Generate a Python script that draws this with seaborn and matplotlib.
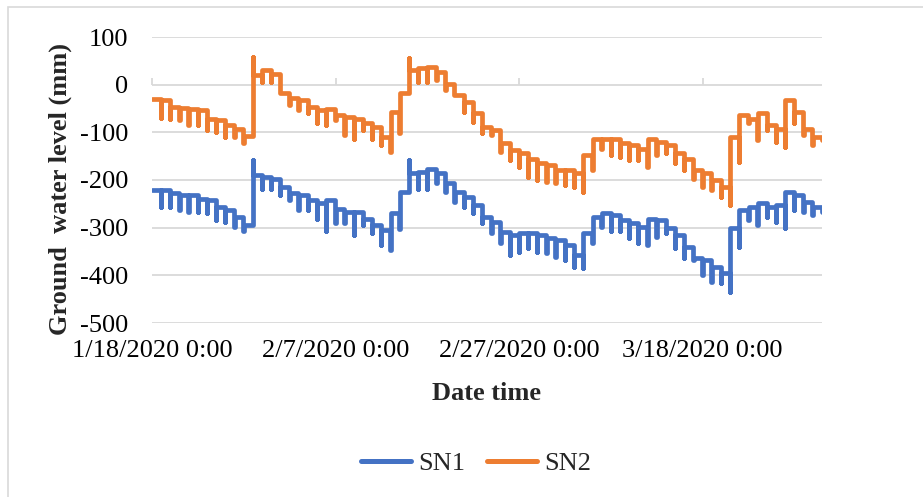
import pandas as pd
import matplotlib.pyplot as plt
import matplotlib.dates as mdates
from matplotlib.patches import Rectangle
import seaborn as sns

# daily readings: level held through the day, then the short dip at the end of the day
sn1_level = [-221, -221, -228, -232, -232, -239, -242, -256, -263, -277,
             -295, -190, -193, -197, -214, -228, -232, -242, -249, -242,
             -260, -267, -267, -281, -295, -305, -270, -225, -186, -183,
             -176, -186, -207, -225, -235, -253, -277, -288, -309, -316,
             -312, -312, -316, -322, -326, -336, -357, -312, -277, -270,
             -274, -284, -291, -298, -281, -284, -301, -316, -340, -364,
             -368, -382, -396, -301, -263, -256, -249, -256, -253, -225,
             -232, -246, -256]
sn1_dip = [-256, -256, -263, -267, -267, -270, -284, -288, -298, -308,
           -158, -218, -218, -232, -242, -263, -263, -281, -308, -291,
           -291, -316, -295, -312, -337, -347, -302, -158, -218, -218,
           -207, -225, -246, -256, -270, -291, -312, -333, -357, -350,
           -343, -350, -354, -361, -368, -382, -385, -333, -298, -308,
           -308, -322, -333, -337, -319, -312, -343, -364, -368, -399,
           -413, -417, -434, -340, -284, -295, -277, -288, -301, -263,
           -267, -274, -267]
sn2_level = [-30, -32, -46, -48, -50, -53, -71, -74, -85, -92,
             -108, 20, 30, 23, -18, -29, -32, -46, -53, -50,
             -64, -67, -71, -81, -88, -109, -57, -18, 30, 34,
             37, 27, 2, -22, -36, -60, -88, -95, -123, -137,
             -144, -155, -165, -169, -179, -179, -186, -148, -113, -113,
             -113, -123, -127, -134, -113, -120, -127, -144, -155, -179,
             -186, -200, -214, -110, -64, -71, -60, -85, -92, -33,
             -57, -92, -109]
sn2_dip = [-70, -71, -74, -85, -85, -95, -99, -109, -109, -123,
           58, 6, 6, -18, -43, -53, -60, -81, -85, -74,
           -106, -113, -95, -113, -127, -141, -102, 55, 6, 6,
           10, -11, -22, -57, -78, -102, -105, -141, -158, -172,
           -193, -200, -204, -207, -211, -214, -225, -179, -134, -148,
           -151, -158, -158, -172, -148, -144, -165, -179, -197, -214,
           -221, -235, -252, -162, -81, -116, -95, -120, -130, -81,
           -106, -127, -116]

start = pd.Timestamp('2020-01-18')
days = pd.date_range(start, periods=len(sn1_level), freq='D')
tick_dates = pd.date_range(start, periods=4, freq='20D')
tick_labels = [f'{d.month}/{d.day}/{d.year} 0:00' for d in tick_dates]

# long table: each day gives a row at 0:00 (level) and at 23:00 (dip)
rows = []
for name, level, dip in [('SN1', sn1_level, sn1_dip), ('SN2', sn2_level, sn2_dip)]:
    for d, lv, dp in zip(days, level, dip):
        rows.append((d, lv, name))
        rows.append((d + pd.Timedelta(hours=23), dp, name))
df = pd.DataFrame(rows, columns=['Date time', 'Level', 'Sensor'])

sns.set_theme(style='white')
plt.rcParams['font.family'] = ['Liberation Serif', 'DejaVu Serif']
plt.rcParams['axes.unicode_minus'] = False

fig, ax = plt.subplots(figsize=(9.23, 4.97), dpi=100)
fig.subplots_adjust(left=152/923, right=822/923, top=1-37/497, bottom=1-323/497)

sns.lineplot(data=df, x='Date time', y='Level', hue='Sensor',
             palette={'SN1': '#4472C4', 'SN2': '#ED7D31'},
             estimator=None, sort=True, drawstyle='steps-post', ax=ax)
for line in ax.lines:
    line.set_linewidth(3.4)
    line.set_solid_joinstyle('round')
    line.set_solid_capstyle('round')

ax.set_xlim(start, start + pd.Timedelta(days=73))
ax.set_ylim(-500, 100)
ax.set_yticks(range(-500, 101, 100))
ax.set_xticks(tick_dates)
ax.set_xticklabels(tick_labels)
ax.yaxis.grid(True, color='#d9d9d9', linewidth=1.3)
ax.xaxis.grid(False)
for s in ax.spines.values():
    s.set_visible(False)
ax.tick_params(axis='x', length=0, pad=12, labelsize=19, labelcolor='black')
ax.tick_params(axis='y', length=0, pad=17, labelsize=19, labelcolor='black')

# small tick marks sitting on the zero line, like the Excel category axis
sec = ax.secondary_xaxis(5/6)
sec.set_xticks(mdates.date2num(tick_dates))
sec.tick_params(length=5, width=1.3, color='#d9d9d9', labeltop=False, labelbottom=False)
for s in sec.spines.values():
    s.set_visible(False)

ax.set_xlabel('Date time', fontsize=19, fontweight='bold', labelpad=15)
ax.set_ylabel('Ground  water level (mm)', fontsize=19, fontweight='bold')
ax.yaxis.set_label_coords(-0.119, 0.4685)

handles, labels = ax.get_legend_handles_labels()
ax.get_legend().remove()
for h in handles:
    h.set_linewidth(3.6)
    h.set_solid_capstyle('round')
fig.legend(handles, labels, loc='center', bbox_to_anchor=(476/923, 1-463/497),
           ncol=2, frameon=False, fontsize=19, handlelength=1.9,
           handletextpad=0.27, columnspacing=0.83)

# light chart border (only the top and left edges are visible in the crop)
fig.add_artist(Rectangle((8/923, -0.1), 2, 1 - 7/497 + 0.1, transform=fig.transFigure,
                         fill=False, edgecolor='#d9d9d9', linewidth=1.2))

plt.savefig('out.png', dpi=100)
